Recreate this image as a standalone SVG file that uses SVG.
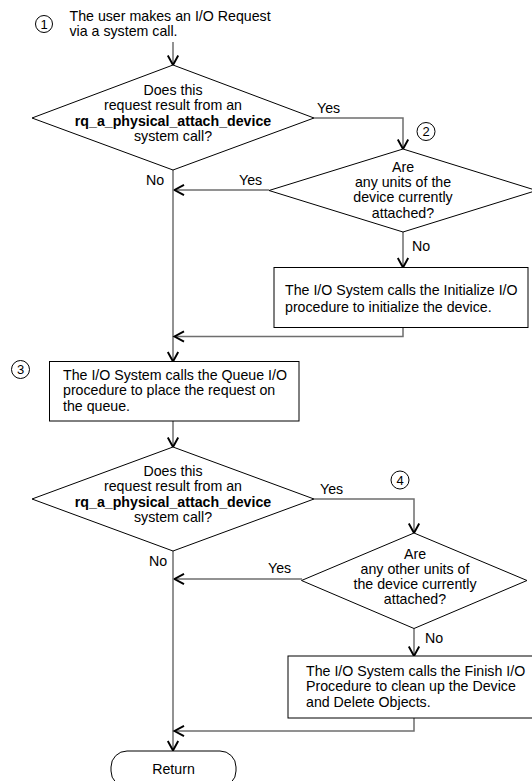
<svg xmlns="http://www.w3.org/2000/svg" width="532" height="781" viewBox="0 0 532 781">
  <defs>
    <marker id="arrow" markerUnits="userSpaceOnUse" markerWidth="14" markerHeight="14" refX="11" refY="7" orient="auto">
      <path d="M1.5,1.8 L11,7 L1.5,12.2" fill="none" stroke="#000" stroke-width="1.9" stroke-linejoin="miter"/>
    </marker>
  </defs>
  <style>
    text { font-family: "Liberation Sans", Arial, sans-serif; font-size: 14.2px; fill: #000; }
    .c { text-anchor: middle; }
    .b { font-weight: bold; }
    .num { font-size: 13px; text-anchor: middle; }
    .shape { fill: #fff; stroke: #000; stroke-width: 1; }
    .conn { fill: none; stroke: #6e6e6e; stroke-width: 1.5; marker-end: url(#arrow); }
    .mark { fill: #fff; stroke: #000; stroke-width: 1; }
  </style>

  <!-- connectors -->
  <g id="connectors">
    <path class="conn" d="M173,42 V65"/>
    <path class="conn" d="M314,118 H403 V149"/>
    <path class="conn" d="M269,190 H174.5"/>
    <path class="conn" d="M173,170 V361.5"/>
    <path class="conn" d="M403,232 V267.5"/>
    <path class="conn" d="M403,327.5 V336.5 H174.5"/>
    <path class="conn" d="M173,421 V447"/>
    <path class="conn" d="M314,499 H414 V533"/>
    <path class="conn" d="M302,579 H174.5"/>
    <path class="conn" d="M173,551 V750.5"/>
    <path class="conn" d="M414,628.5 V656"/>
    <path class="conn" d="M414,718 V731 H174.5"/>
  </g>

  <!-- branch labels -->
  <g id="labels">
    <text x="317" y="113">Yes</text>
    <text x="239" y="185">Yes</text>
    <text x="146" y="185">No</text>
    <text x="412" y="251">No</text>
    <text x="320" y="494">Yes</text>
    <text x="268" y="573">Yes</text>
    <text x="149" y="566">No</text>
    <text x="425" y="643">No</text>
  </g>

  <!-- step 1: request -->
  <g id="start">
    <circle class="mark" cx="44" cy="24" r="8.5"/>
    <text class="num" x="44" y="28.5">1</text>
    <text x="69.5" y="21">The user makes an I/O Request</text>
    <text x="69.5" y="35.5">via a system call.</text>
  </g>

  <!-- first decision -->
  <g id="decision1">
    <polygon class="shape" points="173,65 314,118 173,170 32,118"/>
    <text class="c" x="173" y="95">Does this</text>
    <text class="c" x="173" y="110.3">request result from an</text>
    <text class="c b" x="173" y="126">rq_a_physical_attach_device</text>
    <text class="c" x="173" y="141">system call?</text>
  </g>

  <!-- step 2 marker and decision -->
  <g id="step2">
    <circle class="mark" cx="426" cy="131.5" r="9"/>
    <text class="num" x="426" y="136">2</text>
  </g>
  <g id="decision2">
    <polygon class="shape" points="403,149 536.5,190.5 403,232 269,190.5"/>
    <text class="c" x="403" y="171.5">Are</text>
    <text class="c" x="403" y="187">any units of the</text>
    <text class="c" x="403" y="202.3">device currently</text>
    <text class="c" x="403" y="217.5">attached?</text>
  </g>

  <!-- initialize procedure -->
  <g id="initialize">
    <rect class="shape" x="274" y="267.5" width="254" height="60"/>
    <text x="285" y="295.3">The I/O System calls the Initialize I/O</text>
    <text x="285" y="311.5">procedure to initialize the device.</text>
  </g>

  <!-- step 3: queue -->
  <g id="step3">
    <circle class="mark" cx="20.5" cy="369.5" r="9"/>
    <text class="num" x="20.5" y="374">3</text>
  </g>
  <g id="queue">
    <rect class="shape" x="49.5" y="361.5" width="249.5" height="59.5"/>
    <text x="63" y="379.5">The I/O System calls the Queue I/O</text>
    <text x="63" y="395.3">procedure to place the request on</text>
    <text x="63" y="410.5">the queue.</text>
  </g>

  <!-- second request check -->
  <g id="decision3">
    <polygon class="shape" points="173,447 314,499 173,551 32,499"/>
    <text class="c" x="173" y="476">Does this</text>
    <text class="c" x="173" y="491.3">request result from an</text>
    <text class="c b" x="173" y="507">rq_a_physical_attach_device</text>
    <text class="c" x="173" y="522">system call?</text>
  </g>

  <!-- step 4 marker and decision -->
  <g id="step4">
    <circle class="mark" cx="400" cy="480" r="9"/>
    <text class="num" x="400" y="484.5">4</text>
  </g>
  <g id="decision4">
    <polygon class="shape" points="414,533 527,580.5 414,628.5 301.5,580.5"/>
    <text class="c" x="415" y="558.5">Are</text>
    <text class="c" x="415" y="573.8">any other units of</text>
    <text class="c" x="415" y="589">the device currently</text>
    <text class="c" x="415" y="604.3">attached?</text>
  </g>

  <!-- finish procedure -->
  <g id="finish">
    <rect class="shape" x="288" y="656" width="260" height="62"/>
    <text x="306" y="675.5">The I/O System calls the Finish I/O</text>
    <text x="306" y="691">Procedure to clean up the Device</text>
    <text x="306" y="706.5">and Delete Objects.</text>
  </g>

  <!-- terminator -->
  <g id="return">
    <rect class="shape" x="111" y="751" width="125" height="36" rx="16" ry="16"/>
    <text class="c" x="173.5" y="774">Return</text>
  </g>
</svg>
